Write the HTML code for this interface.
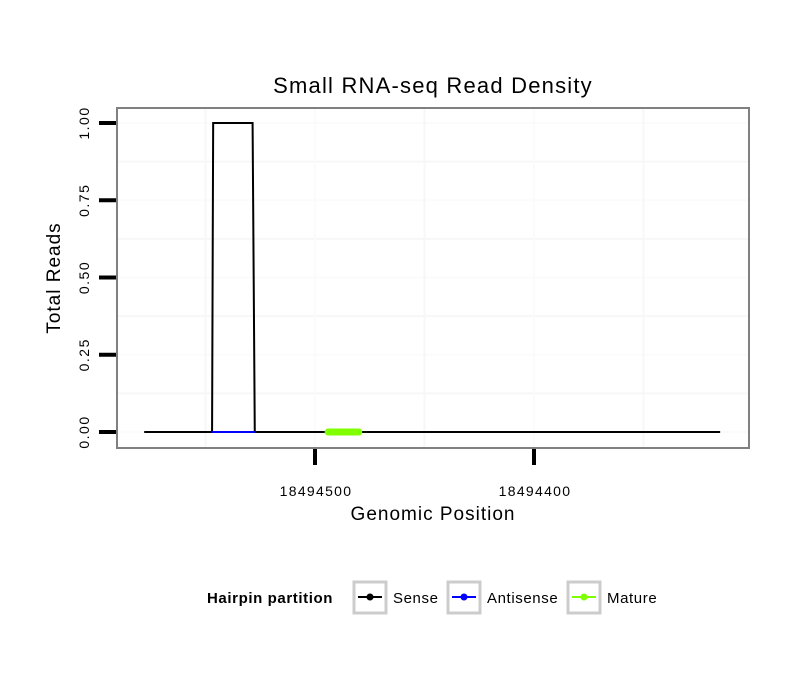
<!DOCTYPE html>
<html><head><meta charset="utf-8"><style>
body{margin:0;background:#fff}
svg{display:block;font-family:"Liberation Sans",sans-serif}
</style></head><body>
<svg id="c" width="810" height="690">
<rect width="810" height="690" fill="#fff"/>
<g id="grid"></g>
<g id="marks"></g>
<rect x="117" y="108" width="632" height="340" fill="none" stroke="#808080" stroke-width="2"/>
<g id="axes"></g>
<text x="433" y="93" text-anchor="middle" font-size="22" letter-spacing="1.2">Small RNA-seq Read Density</text>
<text x="433" y="520" text-anchor="middle" font-size="19" letter-spacing="1">Genomic Position</text>
<text transform="translate(60,278) rotate(-90)" text-anchor="middle" font-size="19" letter-spacing="1">Total Reads</text>
<g font-size="15" letter-spacing="0.6">
<text x="207" y="603" font-weight="bold">Hairpin partition</text>
<g><rect x="354" y="582" width="32" height="31" fill="#fff" stroke="#ccc" stroke-width="3"/><line x1="358" y1="597" x2="382" y2="597" stroke="#000" stroke-width="2"/><circle cx="370" cy="597" r="3.5" fill="#000"/><text x="393" y="603">Sense</text></g>
<g><rect x="448" y="582" width="32" height="31" fill="#fff" stroke="#ccc" stroke-width="3"/><line x1="452" y1="597" x2="476" y2="597" stroke="#00f" stroke-width="2"/><circle cx="464" cy="597" r="3.5" fill="#00f"/><text x="487" y="603">Antisense</text></g>
<g><rect x="568" y="582" width="32" height="31" fill="#fff" stroke="#ccc" stroke-width="3"/><line x1="572" y1="597" x2="596" y2="597" stroke="#7fff00" stroke-width="2"/><circle cx="584" cy="597" r="3.5" fill="#7fff00"/><text x="607" y="603">Mature</text></g>
</g>
</svg>
<script>
const xTicks=[18494500,18494400];
const xMinor=[18494550,18494450,18494350];
const yTicks=[0,0.25,0.5,0.75,1.0];
const yTickLabels=["0.00","0.25","0.50","0.75","1.00"];
const senseX=[18494578,18494547,18494546.5,18494528.5,18494527.5,18494315];
const senseY=[0,0,1,1,0,0];
const antisenseX=[18494547,18494527.5];
const antisenseY=[0,0];
const matureX=[18494494,18494480];
const matureY=[0,0];
const NS="http://www.w3.org/2000/svg";
function xs(p){return 315+(18494500-p)*2.19;}
function ys(v){return 432-v*309;}
function mk(tag,attrs,parent){const e=document.createElementNS(NS,tag);for(const k in attrs)e.setAttribute(k,attrs[k]);document.getElementById(parent).appendChild(e);return e;}
yTicks.forEach((v,i)=>{
 if(i<yTicks.length-1){const m=mk('line',{x1:118,x2:748,y1:ys(v+0.125),y2:ys(v+0.125),stroke:'#f7f7f7','stroke-width':2},'grid');
 
 }
 const g=mk('line',{x1:118,x2:748,y1:ys(v),y2:ys(v),stroke:'#fbfbfb','stroke-width':2},'grid');
 
 
 const t=mk('line',{x1:99,x2:116,y1:ys(v),y2:ys(v),stroke:'#000','stroke-width':4},'axes');
 
 
 const l=mk('text',{transform:`translate(89,${ys(v)}) rotate(-90)`,'text-anchor':'middle','font-size':14,'letter-spacing':1.5},'axes');
 l.textContent=yTickLabels[i];
 
 
});
xMinor.forEach(p=>{const g=mk('line',{x1:xs(p),x2:xs(p),y1:109,y2:447,stroke:'#f7f7f7','stroke-width':2},'grid');
 
 });
xTicks.forEach(p=>{
 const g=mk('line',{x1:xs(p),x2:xs(p),y1:109,y2:447,stroke:'#fbfbfb','stroke-width':2},'grid');
 
 
 const t=mk('line',{x1:xs(p),x2:xs(p),y1:449,y2:465,stroke:'#000','stroke-width':4},'axes');
 
 
 const l=mk('text',{x:xs(p)+1,y:496,'text-anchor':'middle','font-size':14,'letter-spacing':1.3},'axes');
 l.textContent=p;
 
 
});
function pts(X,Y){return X.map((x,i)=>xs(x)+','+ys(Y[i])).join(' ');}
const s=mk('polyline',{points:pts(senseX,senseY),fill:'none',stroke:'#000','stroke-width':2},'marks');


const a=mk('polyline',{points:pts(antisenseX,antisenseY),fill:'none',stroke:'#00f','stroke-width':2},'marks');


const m=mk('polyline',{points:pts(matureX,matureY),fill:'none',stroke:'#7fff00','stroke-width':7,'stroke-linecap':'round'},'marks');


</script>
</body></html>
